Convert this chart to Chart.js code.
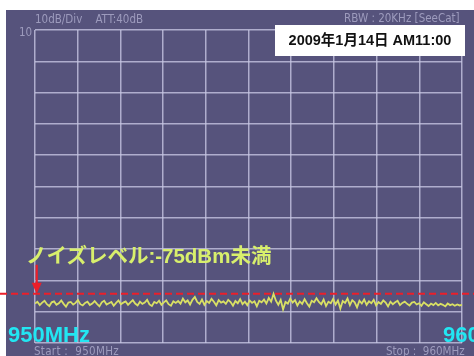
<!DOCTYPE html>
<html>
<head>
<meta charset="utf-8">
<script src="https://cdn.jsdelivr.net/npm/chart.js@4"></script>
<style>
  html, body { margin:0; padding:0; background:#fff; }
  #wrap { position:relative; width:474px; height:356px; overflow:hidden; background:#fff; }
  #panel { position:absolute; left:6px; top:10px; width:468px; height:346px; background:#56537c; }
  canvas { position:absolute; left:0; top:0; }
  .lbl { position:absolute; white-space:nowrap; line-height:1; }
  .inst { font-family:"Liberation Sans Narrow","DejaVu Sans Condensed",sans-serif; font-size:11.5px; color:#9d9bbd; }
  .big { font-family:"Liberation Sans","Noto Sans CJK JP",sans-serif; font-weight:bold; }
</style>
</head>
<body>
<div id="wrap">
  <div id="panel"></div>
  <canvas id="c" width="474" height="356"></canvas>
  <div class="lbl inst" style="left:35px; top:14px;">10dB/Div&nbsp;&nbsp;&nbsp;&nbsp;ATT:40dB</div>
  <div class="lbl inst" style="left:19px; top:27px;">10</div>
  <div class="lbl inst" style="left:344px; top:13px;">RBW&nbsp;:&nbsp;20KHz&nbsp;[SeeCat]</div>
  <div class="lbl" style="left:275px; top:25px; width:190px; height:31px; background:#fff; font-family:'Liberation Sans','Noto Sans CJK JP',sans-serif; font-weight:bold; font-size:14.5px; color:#111; display:flex; align-items:center; justify-content:center;">2009年1月14日 AM11:00</div>
  <div class="lbl big" style="left:26px; top:246px; font-size:20.5px; color:#d8ef6c;">ノイズレベル:-75dBm未満</div>
  <div class="lbl big" style="left:8px; top:324px; font-size:22px; color:#22e6f2;">950MHz</div>
  <div class="lbl big" style="left:443px; top:324px; font-size:22px; color:#22e6f2;">960MHz</div>
  <div class="lbl inst" style="left:34px; top:346px; letter-spacing:0.3px;">Start&nbsp;:&nbsp;&nbsp;950MHz</div>
  <div class="lbl inst" style="left:386px; top:346px;">Stop&nbsp;:&nbsp;&nbsp;960MHz</div>
</div>
<script>
// sweep 950 - 960 MHz, 10 dB/div, ref level 10 dBm
const START_MHZ = 950;
const STOP_MHZ = 960;
const REF_DBM = 10;
const BOTTOM_DBM = -90;
const noiseLevel = [-74.3];          // red dashed line (dBm)
const arrowFrom = [950.04, -65];     // arrow tail (MHz, dBm)

// trace, dBm
const trace = [
  -77.4,-76.8,-77.9,-77.1,-76.5,-77.6,-78.2,-77.0,-76.7,-77.8,-77.3,-76.4,-77.5,-78.4,-77.1,-76.9,-77.7,-77.2,-76.3,-77.6,
  -78.0,-77.2,-76.8,-77.9,-77.4,-76.6,-77.5,-78.3,-77.0,-76.5,-77.7,-77.3,-76.9,-78.1,-77.2,-76.4,-77.6,-77.1,-76.7,-77.8,
  -77.0,-76.3,-77.4,-78.0,-76.8,-77.5,-77.1,-76.2,-77.7,-78.2,-76.9,-77.3,-76.5,-77.8,-77.0,-76.4,-77.6,-78.1,-76.7,-77.2,
  -76.6,-77.4,-75.8,-77.0,-76.4,-77.7,-76.2,-75.3,-76.9,-77.5,-76.1,-77.8,-76.6,-77.2,-75.9,-76.8,-78.0,-76.3,-77.1,-76.7,
  -77.5,-76.2,-76.9,-78.1,-76.6,-77.3,-76.0,-77.6,-76.8,-77.9,-76.4,-77.2,-76.7,-78.3,-76.5,-77.0,-76.1,-77.4,-75.6,-76.8,
  -74.3,-76.5,-77.8,-76.2,-79.3,-76.9,-77.4,-75.8,-77.1,-76.3,-78.0,-76.7,-77.5,-76.0,-77.3,-78.4,-76.5,-77.0,-75.7,-76.9,
  -77.6,-76.1,-78.2,-76.8,-77.3,-75.9,-77.7,-76.4,-79.0,-76.6,-77.2,-75.8,-77.9,-76.3,-77.0,-78.6,-76.5,-77.4,-76.1,-77.8,
  -76.7,-77.3,-76.2,-78.0,-76.9,-77.5,-76.4,-77.1,-78.3,-76.8,-77.6,-77.0,-76.5,-77.9,-77.2,-76.8,-77.5,-78.0,-77.1,-76.9,
  -77.7,-77.3,-78.1,-77.0,-77.6,-78.2,-77.4,-77.9,-77.2,-78.0,-77.5,-77.8,-78.3,-77.4,-77.9,-77.6,-78.1,-77.7,-78.0,-77.8
];
const freqs = trace.map((_, i) => START_MHZ + i * (STOP_MHZ - START_MHZ) / (trace.length - 1));

const GRID = "rgba(200,198,228,0.78)";
const RED = "#ec1f2a";

const markerPlugin = {
  id: "marker",
  afterDatasetsDraw(chart) {
    const { ctx, scales: { x, y } } = chart;
    const yl = y.getPixelForValue(noiseLevel[0]);
    ctx.save();
    ctx.strokeStyle = RED;
    ctx.lineWidth = 2;
    ctx.setLineDash([7, 4]);
    ctx.beginPath();
    ctx.moveTo(0, yl);
    ctx.lineTo(chart.width, yl);
    ctx.stroke();
    // arrow
    const ax = x.getPixelForValue(arrowFrom[0]);
    const ay = y.getPixelForValue(arrowFrom[1]);
    ctx.setLineDash([]);
    ctx.lineWidth = 2.2;
    ctx.beginPath();
    ctx.moveTo(ax, ay);
    ctx.lineTo(ax, yl - 8);
    ctx.stroke();
    ctx.fillStyle = RED;
    ctx.beginPath();
    ctx.moveTo(ax - 5, yl - 11);
    ctx.lineTo(ax + 5, yl - 11);
    ctx.lineTo(ax, yl);
    ctx.closePath();
    ctx.fill();
    ctx.restore();
  }
};

new Chart(document.getElementById("c"), {
  type: "line",
  data: {
    datasets: [{
      data: freqs.map((f, i) => ({ x: f, y: trace[i] })),
      borderColor: "#d9e064",
      borderWidth: 1.8,
      pointRadius: 0,
      tension: 0,
    }],
  },
  options: {
    responsive: false, animation: false,
    layout: { padding: { left: 35, right: 12, top: 30, bottom: 13 } },
    plugins: { legend: { display: false }, tooltip: { enabled: false } },
    scales: {
      x: { type: "linear", min: START_MHZ, max: STOP_MHZ,
           ticks: { display: false, stepSize: 1 },
           grid: { color: GRID, lineWidth: 1.5, drawTicks: false },
           border: { display: false } },
      y: { min: BOTTOM_DBM, max: REF_DBM,
           ticks: { display: false, stepSize: 10 },
           grid: { color: GRID, lineWidth: 1.5, drawTicks: false },
           border: { display: false } },
    },
  },
  plugins: [markerPlugin],
});
</script>
</body>
</html>
